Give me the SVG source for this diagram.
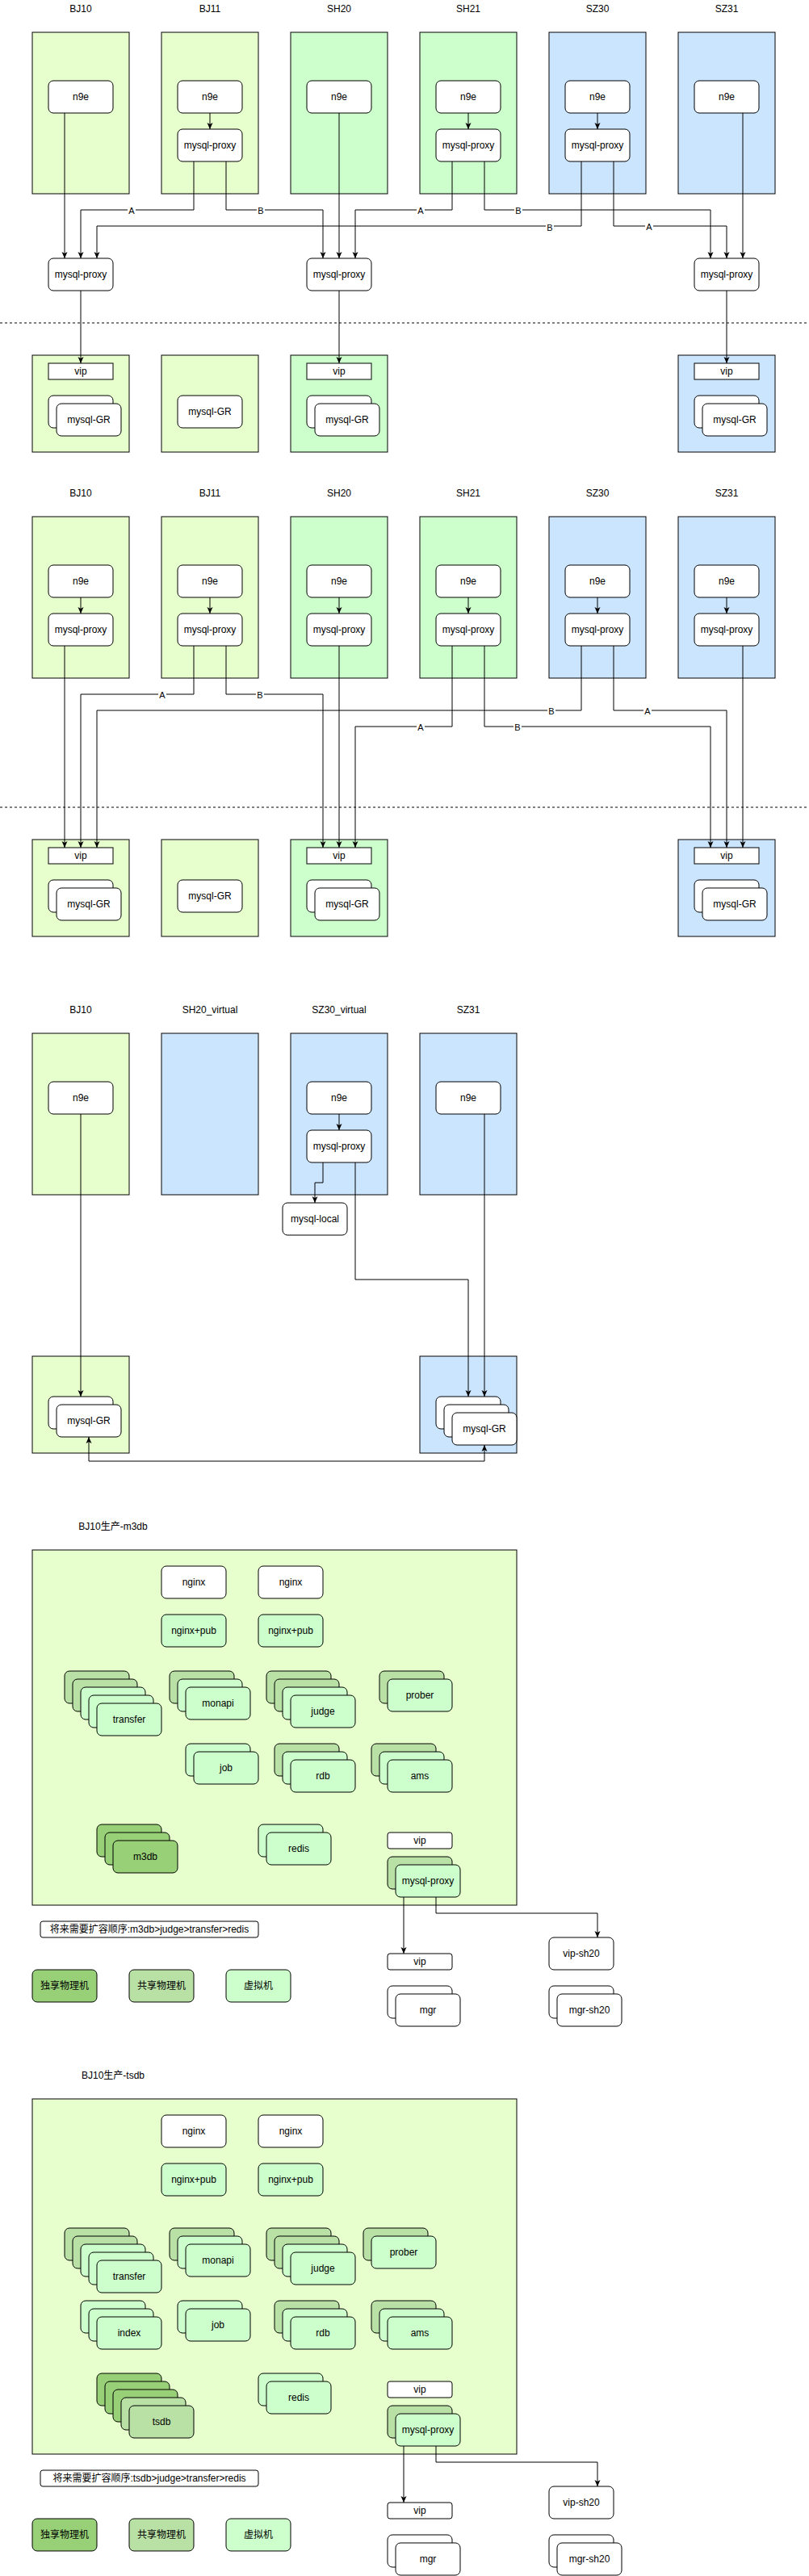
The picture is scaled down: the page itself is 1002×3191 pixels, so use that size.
<svg xmlns="http://www.w3.org/2000/svg" width="1002" height="3191" viewBox="0 0 1002 3191">
<defs>
<marker id="arr" viewBox="0 0 8 8" markerWidth="8" markerHeight="8" refX="8" refY="4" orient="auto" markerUnits="userSpaceOnUse">
<path d="M0,0.5 L8,4 L0,7.5 L2,4 Z" fill="#000"/>
</marker>
<marker id="arrs" viewBox="0 0 8 8" markerWidth="8" markerHeight="8" refX="8" refY="4" orient="auto-start-reverse" markerUnits="userSpaceOnUse">
<path d="M0,0.5 L8,4 L0,7.5 L2,4 Z" fill="#000"/>
</marker>
</defs>
<style>
text{font-family:"Liberation Sans",Arial,"Noto Sans CJK SC",sans-serif;font-size:12px;fill:#000;text-anchor:middle;dominant-baseline:central}
.el{font-size:11px}
.n{fill:#fff;stroke:#000}
.v{fill:#CCFFCC;stroke:#000}
.s{fill:#B9E0A5;stroke:#000}
.d{fill:#97D077;stroke:#000}
.lime{fill:#E6FFCC;stroke:#000}
.grn{fill:#CCFFCC;stroke:#000}
.blu{fill:#CCE5FF;stroke:#000}
.e{fill:none;stroke:#000;stroke-width:1;marker-end:url(#arr)}
.lb{fill:#fff;stroke:none}
.dash{stroke:#000;stroke-dasharray:3 3;fill:none}
</style>
<rect width="1002" height="3191" fill="#fff"/>

<!-- ===== Section 1 ===== -->
<g id="s1-titles">
<text x="100" y="11">BJ10</text><text x="260" y="11">BJ11</text><text x="420" y="11">SH20</text>
<text x="580" y="11">SH21</text><text x="740" y="11">SZ30</text><text x="900" y="11">SZ31</text>
</g>
<g id="s1-bj10"><rect class="lime" x="40" y="40" width="120" height="200"/></g>
<g id="s1-bj11"><rect class="lime" x="200" y="40" width="120" height="200"/></g>
<g id="s1-sh20"><rect class="grn" x="360" y="40" width="120" height="200"/></g>
<g id="s1-sh21"><rect class="grn" x="520" y="40" width="120" height="200"/></g>
<g id="s1-sz30"><rect class="blu" x="680" y="40" width="120" height="200"/></g>
<g id="s1-sz31"><rect class="blu" x="840" y="40" width="120" height="200"/></g>
<g id="s1-n9e-bj10"><rect class="n" x="60" y="100" width="80" height="40" rx="6"/><text x="100" y="120">n9e</text></g>
<g id="s1-n9e-bj11"><rect class="n" x="220" y="100" width="80" height="40" rx="6"/><text x="260" y="120">n9e</text></g>
<g id="s1-n9e-sh20"><rect class="n" x="380" y="100" width="80" height="40" rx="6"/><text x="420" y="120">n9e</text></g>
<g id="s1-n9e-sh21"><rect class="n" x="540" y="100" width="80" height="40" rx="6"/><text x="580" y="120">n9e</text></g>
<g id="s1-n9e-sz30"><rect class="n" x="700" y="100" width="80" height="40" rx="6"/><text x="740" y="120">n9e</text></g>
<g id="s1-n9e-sz31"><rect class="n" x="860" y="100" width="80" height="40" rx="6"/><text x="900" y="120">n9e</text></g>
<g id="s1-proxy-bj11"><rect class="n" x="220" y="160" width="80" height="40" rx="6"/><text x="260" y="180">mysql-proxy</text></g>
<g id="s1-proxy-sh21"><rect class="n" x="540" y="160" width="80" height="40" rx="6"/><text x="580" y="180">mysql-proxy</text></g>
<g id="s1-proxy-sz30"><rect class="n" x="700" y="160" width="80" height="40" rx="6"/><text x="740" y="180">mysql-proxy</text></g>
<g id="s1-mid-bj10"><rect class="n" x="60" y="320" width="80" height="40" rx="6"/><text x="100" y="340">mysql-proxy</text></g>
<g id="s1-mid-sh20"><rect class="n" x="380" y="320" width="80" height="40" rx="6"/><text x="420" y="340">mysql-proxy</text></g>
<g id="s1-mid-sz31"><rect class="n" x="860" y="320" width="80" height="40" rx="6"/><text x="900" y="340">mysql-proxy</text></g>
<g id="s1-divider"><line class="dash" x1="0" y1="400" x2="1002" y2="400"/></g>
<g id="s1-db-bj10"><rect class="lime" x="40" y="440" width="120" height="120"/>
<rect class="n" x="60" y="450" width="80" height="20"/><text x="100" y="460">vip</text>
<rect class="n" x="60" y="490" width="80" height="40" rx="6"/><rect class="n" x="70" y="500" width="80" height="40" rx="6"/><text x="110" y="520">mysql-GR</text></g>
<g id="s1-db-bj11"><rect class="lime" x="200" y="440" width="120" height="120"/>
<rect class="n" x="220" y="490" width="80" height="40" rx="6"/><text x="260" y="510">mysql-GR</text></g>
<g id="s1-db-sh20"><rect class="grn" x="360" y="440" width="120" height="120"/>
<rect class="n" x="380" y="450" width="80" height="20"/><text x="420" y="460">vip</text>
<rect class="n" x="380" y="490" width="80" height="40" rx="6"/><rect class="n" x="390" y="500" width="80" height="40" rx="6"/><text x="430" y="520">mysql-GR</text></g>
<g id="s1-db-sz31"><rect class="blu" x="840" y="440" width="120" height="120"/>
<rect class="n" x="860" y="450" width="80" height="20"/><text x="900" y="460">vip</text>
<rect class="n" x="860" y="490" width="80" height="40" rx="6"/><rect class="n" x="870" y="500" width="80" height="40" rx="6"/><text x="910" y="520">mysql-GR</text></g>
<g id="s1-connectors">
<path class="e" d="M80,140 V320"/>
<path class="e" d="M260,140 V160"/>
<path class="e" d="M240,200 V260 H100 V320"/>
<path class="e" d="M280,200 V260 H400 V320"/>
<path class="e" d="M420,140 V320"/>
<path class="e" d="M580,140 V160"/>
<path class="e" d="M560,200 V260 H440 V320"/>
<path class="e" d="M600,200 V260 H880 V320"/>
<path class="e" d="M740,140 V160"/>
<path class="e" d="M720,200 V280 H120 V320"/>
<path class="e" d="M760,200 V280 H900 V320"/>
<path class="e" d="M920,140 V320"/>
<path class="e" d="M100,360 V450"/>
<path class="e" d="M420,360 V450"/>
<path class="e" d="M900,360 V450"/>
<rect class="lb" x="158" y="254" width="10" height="13"/><text class="el" x="163" y="261">A</text>
<rect class="lb" x="318" y="254" width="10" height="13"/><text class="el" x="323" y="261">B</text>
<rect class="lb" x="516" y="254" width="10" height="13"/><text class="el" x="521" y="261">A</text>
<rect class="lb" x="637" y="254" width="10" height="13"/><text class="el" x="642" y="261">B</text>
<rect class="lb" x="676" y="275" width="10" height="13"/><text class="el" x="681" y="282">B</text>
<rect class="lb" x="799" y="274" width="10" height="13"/><text class="el" x="804" y="281">A</text>
</g>

<!-- ===== Section 2 ===== -->
<g id="s2-titles">
<text x="100" y="611">BJ10</text><text x="260" y="611">BJ11</text><text x="420" y="611">SH20</text>
<text x="580" y="611">SH21</text><text x="740" y="611">SZ30</text><text x="900" y="611">SZ31</text>
</g>
<g id="s2-bj10"><rect class="lime" x="40" y="640" width="120" height="200"/></g>
<g id="s2-bj11"><rect class="lime" x="200" y="640" width="120" height="200"/></g>
<g id="s2-sh20"><rect class="grn" x="360" y="640" width="120" height="200"/></g>
<g id="s2-sh21"><rect class="grn" x="520" y="640" width="120" height="200"/></g>
<g id="s2-sz30"><rect class="blu" x="680" y="640" width="120" height="200"/></g>
<g id="s2-sz31"><rect class="blu" x="840" y="640" width="120" height="200"/></g>
<g id="s2-n9e-bj10"><rect class="n" x="60" y="700" width="80" height="40" rx="6"/><text x="100" y="720">n9e</text></g>
<g id="s2-n9e-bj11"><rect class="n" x="220" y="700" width="80" height="40" rx="6"/><text x="260" y="720">n9e</text></g>
<g id="s2-n9e-sh20"><rect class="n" x="380" y="700" width="80" height="40" rx="6"/><text x="420" y="720">n9e</text></g>
<g id="s2-n9e-sh21"><rect class="n" x="540" y="700" width="80" height="40" rx="6"/><text x="580" y="720">n9e</text></g>
<g id="s2-n9e-sz30"><rect class="n" x="700" y="700" width="80" height="40" rx="6"/><text x="740" y="720">n9e</text></g>
<g id="s2-n9e-sz31"><rect class="n" x="860" y="700" width="80" height="40" rx="6"/><text x="900" y="720">n9e</text></g>
<g id="s2-proxy-bj10"><rect class="n" x="60" y="760" width="80" height="40" rx="6"/><text x="100" y="780">mysql-proxy</text></g>
<g id="s2-proxy-bj11"><rect class="n" x="220" y="760" width="80" height="40" rx="6"/><text x="260" y="780">mysql-proxy</text></g>
<g id="s2-proxy-sh20"><rect class="n" x="380" y="760" width="80" height="40" rx="6"/><text x="420" y="780">mysql-proxy</text></g>
<g id="s2-proxy-sh21"><rect class="n" x="540" y="760" width="80" height="40" rx="6"/><text x="580" y="780">mysql-proxy</text></g>
<g id="s2-proxy-sz30"><rect class="n" x="700" y="760" width="80" height="40" rx="6"/><text x="740" y="780">mysql-proxy</text></g>
<g id="s2-proxy-sz31"><rect class="n" x="860" y="760" width="80" height="40" rx="6"/><text x="900" y="780">mysql-proxy</text></g>
<g id="s2-divider"><line class="dash" x1="0" y1="1000" x2="1002" y2="1000"/></g>
<g id="s2-db-bj10"><rect class="lime" x="40" y="1040" width="120" height="120"/>
<rect class="n" x="60" y="1050" width="80" height="20"/><text x="100" y="1060">vip</text>
<rect class="n" x="60" y="1090" width="80" height="40" rx="6"/><rect class="n" x="70" y="1100" width="80" height="40" rx="6"/><text x="110" y="1120">mysql-GR</text></g>
<g id="s2-db-bj11"><rect class="lime" x="200" y="1040" width="120" height="120"/>
<rect class="n" x="220" y="1090" width="80" height="40" rx="6"/><text x="260" y="1110">mysql-GR</text></g>
<g id="s2-db-sh20"><rect class="grn" x="360" y="1040" width="120" height="120"/>
<rect class="n" x="380" y="1050" width="80" height="20"/><text x="420" y="1060">vip</text>
<rect class="n" x="380" y="1090" width="80" height="40" rx="6"/><rect class="n" x="390" y="1100" width="80" height="40" rx="6"/><text x="430" y="1120">mysql-GR</text></g>
<g id="s2-db-sz31"><rect class="blu" x="840" y="1040" width="120" height="120"/>
<rect class="n" x="860" y="1050" width="80" height="20"/><text x="900" y="1060">vip</text>
<rect class="n" x="860" y="1090" width="80" height="40" rx="6"/><rect class="n" x="870" y="1100" width="80" height="40" rx="6"/><text x="910" y="1120">mysql-GR</text></g>
<g id="s2-connectors">
<path class="e" d="M100,740 V760"/><path class="e" d="M260,740 V760"/><path class="e" d="M420,740 V760"/>
<path class="e" d="M580,740 V760"/><path class="e" d="M740,740 V760"/><path class="e" d="M900,740 V760"/>
<path class="e" d="M80,800 V1050"/>
<path class="e" d="M240,800 V860 H100 V1050"/>
<path class="e" d="M280,800 V860 H400 V1050"/>
<path class="e" d="M420,800 V1050"/>
<path class="e" d="M720,800 V880 H120 V1050"/>
<path class="e" d="M760,800 V880 H900 V1050"/>
<path class="e" d="M560,800 V900 H440 V1050"/>
<path class="e" d="M600,800 V900 H880 V1050"/>
<path class="e" d="M920,800 V1050"/>
<rect class="lb" x="196" y="854" width="10" height="13"/><text class="el" x="201" y="861">A</text>
<rect class="lb" x="317" y="854" width="10" height="13"/><text class="el" x="322" y="861">B</text>
<rect class="lb" x="678" y="874" width="10" height="13"/><text class="el" x="683" y="881">B</text>
<rect class="lb" x="797" y="874" width="10" height="13"/><text class="el" x="802" y="881">A</text>
<rect class="lb" x="516" y="894" width="10" height="13"/><text class="el" x="521" y="901">A</text>
<rect class="lb" x="636" y="894" width="10" height="13"/><text class="el" x="641" y="901">B</text>
</g>

<!-- ===== Section 3 ===== -->
<g id="s3-titles">
<text x="100" y="1251">BJ10</text><text x="260" y="1251">SH20_virtual</text>
<text x="420" y="1251">SZ30_virtual</text><text x="580" y="1251">SZ31</text>
</g>
<g id="s3-bj10"><rect class="lime" x="40" y="1280" width="120" height="200"/>
<rect class="n" x="60" y="1340" width="80" height="40" rx="6"/><text x="100" y="1360">n9e</text></g>
<g id="s3-sh20v"><rect class="blu" x="200" y="1280" width="120" height="200"/></g>
<g id="s3-sz30v"><rect class="blu" x="360" y="1280" width="120" height="200"/>
<rect class="n" x="380" y="1340" width="80" height="40" rx="6"/><text x="420" y="1360">n9e</text>
<rect class="n" x="380" y="1400" width="80" height="40" rx="6"/><text x="420" y="1420">mysql-proxy</text></g>
<g id="s3-sz31"><rect class="blu" x="520" y="1280" width="120" height="200"/>
<rect class="n" x="540" y="1340" width="80" height="40" rx="6"/><text x="580" y="1360">n9e</text></g>
<g id="s3-mysql-local"><rect class="n" x="350" y="1490" width="80" height="40" rx="6"/><text x="390" y="1510">mysql-local</text></g>
<g id="s3-db-bj10"><rect class="lime" x="40" y="1680" width="120" height="120"/>
<rect class="n" x="60" y="1730" width="80" height="40" rx="6"/><rect class="n" x="70" y="1740" width="80" height="40" rx="6"/><text x="110" y="1760">mysql-GR</text></g>
<g id="s3-db-sz31"><rect class="blu" x="520" y="1680" width="120" height="120"/>
<rect class="n" x="540" y="1730" width="80" height="40" rx="6"/><rect class="n" x="550" y="1740" width="80" height="40" rx="6"/><rect class="n" x="560" y="1750" width="80" height="40" rx="6"/><text x="600" y="1770">mysql-GR</text></g>
<g id="s3-connectors">
<path class="e" d="M100,1380 V1730"/>
<path class="e" d="M420,1380 V1400"/>
<path class="e" d="M400,1440 V1465 H390 V1490"/>
<path class="e" d="M440,1440 V1585 H580 V1730"/>
<path class="e" d="M600,1380 V1730"/>
<path class="e" d="M110,1780 V1810 H600 V1790" marker-start="url(#arrs)"/>
</g>

<!-- ===== Section 4 ===== -->
<g id="s4-title"><text x="140" y="1891">BJ10生产-m3db</text></g>
<g id="s4-container"><rect class="lime" x="40" y="1920" width="600" height="440"/></g>
<g id="s4-nginx1"><rect class="n" x="200" y="1940" width="80" height="40" rx="6"/><text x="240" y="1960">nginx</text></g>
<g id="s4-nginx2"><rect class="n" x="320" y="1940" width="80" height="40" rx="6"/><text x="360" y="1960">nginx</text></g>
<g id="s4-pub1"><rect class="v" x="200" y="2000" width="80" height="40" rx="6"/><text x="240" y="2020">nginx+pub</text></g>
<g id="s4-pub2"><rect class="v" x="320" y="2000" width="80" height="40" rx="6"/><text x="360" y="2020">nginx+pub</text></g>
<g id="s4-transfer">
<rect class="s" x="80" y="2070" width="80" height="40" rx="6"/><rect class="s" x="90" y="2080" width="80" height="40" rx="6"/>
<rect class="v" x="100" y="2090" width="80" height="40" rx="6"/><rect class="v" x="110" y="2100" width="80" height="40" rx="6"/>
<rect class="v" x="120" y="2110" width="80" height="40" rx="6"/><text x="160" y="2130">transfer</text></g>
<g id="s4-monapi">
<rect class="s" x="210" y="2070" width="80" height="40" rx="6"/><rect class="v" x="220" y="2080" width="80" height="40" rx="6"/>
<rect class="v" x="230" y="2090" width="80" height="40" rx="6"/><text x="270" y="2110">monapi</text></g>
<g id="s4-judge">
<rect class="s" x="330" y="2070" width="80" height="40" rx="6"/><rect class="s" x="340" y="2080" width="80" height="40" rx="6"/>
<rect class="v" x="350" y="2090" width="80" height="40" rx="6"/><rect class="v" x="360" y="2100" width="80" height="40" rx="6"/>
<text x="400" y="2120">judge</text></g>
<g id="s4-prober">
<rect class="s" x="470" y="2070" width="80" height="40" rx="6"/><rect class="v" x="480" y="2080" width="80" height="40" rx="6"/>
<text x="520" y="2100">prober</text></g>
<g id="s4-job">
<rect class="v" x="230" y="2160" width="80" height="40" rx="6"/><rect class="v" x="240" y="2170" width="80" height="40" rx="6"/>
<text x="280" y="2190">job</text></g>
<g id="s4-rdb">
<rect class="s" x="340" y="2160" width="80" height="40" rx="6"/><rect class="v" x="350" y="2170" width="80" height="40" rx="6"/>
<rect class="v" x="360" y="2180" width="80" height="40" rx="6"/><text x="400" y="2200">rdb</text></g>
<g id="s4-ams">
<rect class="s" x="460" y="2160" width="80" height="40" rx="6"/><rect class="v" x="470" y="2170" width="80" height="40" rx="6"/>
<rect class="v" x="480" y="2180" width="80" height="40" rx="6"/><text x="520" y="2200">ams</text></g>
<g id="s4-m3db">
<rect class="d" x="120" y="2260" width="80" height="40" rx="6"/><rect class="d" x="130" y="2270" width="80" height="40" rx="6"/>
<rect class="d" x="140" y="2280" width="80" height="40" rx="6"/><text x="180" y="2300">m3db</text></g>
<g id="s4-redis">
<rect class="v" x="320" y="2260" width="80" height="40" rx="6"/><rect class="v" x="330" y="2270" width="80" height="40" rx="6"/>
<text x="370" y="2290">redis</text></g>
<g id="s4-vip-in"><rect class="n" x="480" y="2270" width="80" height="20" rx="3"/><text x="520" y="2280">vip</text></g>
<g id="s4-proxy">
<rect class="s" x="480" y="2300" width="80" height="40" rx="6"/><rect class="v" x="490" y="2310" width="80" height="40" rx="6"/>
<text x="530" y="2330">mysql-proxy</text></g>
<g id="s4-note"><rect class="n" x="50" y="2380" width="270" height="20" rx="3"/><text x="185" y="2390">将来需要扩容顺序:m3db&gt;judge&gt;transfer&gt;redis</text></g>
<g id="s4-legend-d"><rect class="d" x="40" y="2440" width="80" height="40" rx="6"/><text x="80" y="2460">独享物理机</text></g>
<g id="s4-legend-s"><rect class="s" x="160" y="2440" width="80" height="40" rx="6"/><text x="200" y="2460">共享物理机</text></g>
<g id="s4-legend-v"><rect class="v" x="280" y="2440" width="80" height="40" rx="6"/><text x="320" y="2460">虚拟机</text></g>
<g id="s4-vip"><rect class="n" x="480" y="2420" width="80" height="20" rx="3"/><text x="520" y="2430">vip</text></g>
<g id="s4-mgr"><rect class="n" x="480" y="2460" width="80" height="40" rx="6"/><rect class="n" x="490" y="2470" width="80" height="40" rx="6"/><text x="530" y="2490">mgr</text></g>
<g id="s4-vip-sh20"><rect class="n" x="680" y="2400" width="80" height="40" rx="6"/><text x="720" y="2420">vip-sh20</text></g>
<g id="s4-mgr-sh20"><rect class="n" x="680" y="2460" width="80" height="40" rx="6"/><rect class="n" x="690" y="2470" width="80" height="40" rx="6"/><text x="730" y="2490">mgr-sh20</text></g>
<g id="s4-connectors">
<path class="e" d="M500,2350 V2420"/>
<path class="e" d="M540,2350 V2370 H740 V2400"/>
</g>

<!-- ===== Section 5 ===== -->
<g id="s5-title"><text x="140" y="2571">BJ10生产-tsdb</text></g>
<g id="s5-container"><rect class="lime" x="40" y="2600" width="600" height="440"/></g>
<g id="s5-nginx1"><rect class="n" x="200" y="2620" width="80" height="40" rx="6"/><text x="240" y="2640">nginx</text></g>
<g id="s5-nginx2"><rect class="n" x="320" y="2620" width="80" height="40" rx="6"/><text x="360" y="2640">nginx</text></g>
<g id="s5-pub1"><rect class="v" x="200" y="2680" width="80" height="40" rx="6"/><text x="240" y="2700">nginx+pub</text></g>
<g id="s5-pub2"><rect class="v" x="320" y="2680" width="80" height="40" rx="6"/><text x="360" y="2700">nginx+pub</text></g>
<g id="s5-transfer">
<rect class="s" x="80" y="2760" width="80" height="40" rx="6"/><rect class="s" x="90" y="2770" width="80" height="40" rx="6"/>
<rect class="v" x="100" y="2780" width="80" height="40" rx="6"/><rect class="v" x="110" y="2790" width="80" height="40" rx="6"/>
<rect class="v" x="120" y="2800" width="80" height="40" rx="6"/><text x="160" y="2820">transfer</text></g>
<g id="s5-monapi">
<rect class="s" x="210" y="2760" width="80" height="40" rx="6"/><rect class="v" x="220" y="2770" width="80" height="40" rx="6"/>
<rect class="v" x="230" y="2780" width="80" height="40" rx="6"/><text x="270" y="2800">monapi</text></g>
<g id="s5-judge">
<rect class="s" x="330" y="2760" width="80" height="40" rx="6"/><rect class="s" x="340" y="2770" width="80" height="40" rx="6"/>
<rect class="v" x="350" y="2780" width="80" height="40" rx="6"/><rect class="v" x="360" y="2790" width="80" height="40" rx="6"/>
<text x="400" y="2810">judge</text></g>
<g id="s5-prober">
<rect class="s" x="450" y="2760" width="80" height="40" rx="6"/><rect class="v" x="460" y="2770" width="80" height="40" rx="6"/>
<text x="500" y="2790">prober</text></g>
<g id="s5-index">
<rect class="v" x="100" y="2850" width="80" height="40" rx="6"/><rect class="v" x="110" y="2860" width="80" height="40" rx="6"/>
<rect class="v" x="120" y="2870" width="80" height="40" rx="6"/><text x="160" y="2890">index</text></g>
<g id="s5-job">
<rect class="v" x="220" y="2850" width="80" height="40" rx="6"/><rect class="v" x="230" y="2860" width="80" height="40" rx="6"/>
<text x="270" y="2880">job</text></g>
<g id="s5-rdb">
<rect class="s" x="340" y="2850" width="80" height="40" rx="6"/><rect class="v" x="350" y="2860" width="80" height="40" rx="6"/>
<rect class="v" x="360" y="2870" width="80" height="40" rx="6"/><text x="400" y="2890">rdb</text></g>
<g id="s5-ams">
<rect class="s" x="460" y="2850" width="80" height="40" rx="6"/><rect class="v" x="470" y="2860" width="80" height="40" rx="6"/>
<rect class="v" x="480" y="2870" width="80" height="40" rx="6"/><text x="520" y="2890">ams</text></g>
<g id="s5-tsdb">
<rect class="d" x="120" y="2940" width="80" height="40" rx="6"/><rect class="d" x="130" y="2950" width="80" height="40" rx="6"/>
<rect class="d" x="140" y="2960" width="80" height="40" rx="6"/><rect class="s" x="150" y="2970" width="80" height="40" rx="6"/>
<rect class="s" x="160" y="2980" width="80" height="40" rx="6"/><text x="200" y="3000">tsdb</text></g>
<g id="s5-redis">
<rect class="v" x="320" y="2940" width="80" height="40" rx="6"/><rect class="v" x="330" y="2950" width="80" height="40" rx="6"/>
<text x="370" y="2970">redis</text></g>
<g id="s5-vip-in"><rect class="n" x="480" y="2950" width="80" height="20" rx="3"/><text x="520" y="2960">vip</text></g>
<g id="s5-proxy">
<rect class="s" x="480" y="2980" width="80" height="40" rx="6"/><rect class="v" x="490" y="2990" width="80" height="40" rx="6"/>
<text x="530" y="3010">mysql-proxy</text></g>
<g id="s5-note"><rect class="n" x="50" y="3060" width="270" height="20" rx="3"/><text x="185" y="3070">将来需要扩容顺序:tsdb&gt;judge&gt;transfer&gt;redis</text></g>
<g id="s5-legend-d"><rect class="d" x="40" y="3120" width="80" height="40" rx="6"/><text x="80" y="3140">独享物理机</text></g>
<g id="s5-legend-s"><rect class="s" x="160" y="3120" width="80" height="40" rx="6"/><text x="200" y="3140">共享物理机</text></g>
<g id="s5-legend-v"><rect class="v" x="280" y="3120" width="80" height="40" rx="6"/><text x="320" y="3140">虚拟机</text></g>
<g id="s5-vip"><rect class="n" x="480" y="3100" width="80" height="20" rx="3"/><text x="520" y="3110">vip</text></g>
<g id="s5-mgr"><rect class="n" x="480" y="3140" width="80" height="40" rx="6"/><rect class="n" x="490" y="3150" width="80" height="40" rx="6"/><text x="530" y="3170">mgr</text></g>
<g id="s5-vip-sh20"><rect class="n" x="680" y="3080" width="80" height="40" rx="6"/><text x="720" y="3100">vip-sh20</text></g>
<g id="s5-mgr-sh20"><rect class="n" x="680" y="3140" width="80" height="40" rx="6"/><rect class="n" x="690" y="3150" width="80" height="40" rx="6"/><text x="730" y="3170">mgr-sh20</text></g>
<g id="s5-connectors">
<path class="e" d="M500,3030 V3100"/>
<path class="e" d="M540,3030 V3050 H740 V3080"/>
</g>
</svg>
